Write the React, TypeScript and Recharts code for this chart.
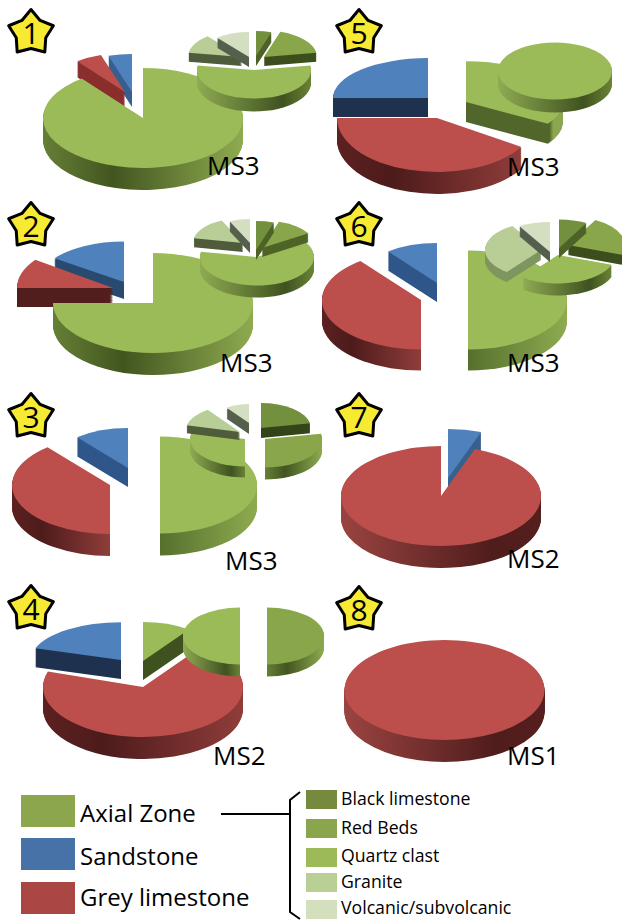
import React from 'react';
import { PieChart, Pie, Cell } from 'recharts';

// Values, each list runs clockwise from 12 o'clock
const MAIN_KEYS = ['Axial Zone', 'Grey limestone', 'Sandstone'];
const SUB_KEYS = ['Black limestone', 'Red Beds', 'Quartz clast', 'Granite', 'Volcanic/subvolcanic'];
const P1_MAIN = [89.5, 5.5, 5];
const P1_SUB = [5, 17.5, 55, 11.5, 11];
const P2_MAIN = [75, 10, 15];
const P2_SUB = [5, 11, 62, 15, 7];
const P3_MAIN = [50, 39, 11];
const P3_SUB = [22, 28, 29, 11, 10];
const P4_MAIN = [10, 70, 20];
const P4_SUB = [0, 50, 50, 0, 0];
const P5_MAIN = [34, 41, 25];
const P5_SUB = [0, 0, 100, 0, 0];
const P6_MAIN = [50, 39.5, 10.5];
const P6_SUB = [8, 22.5, 30, 31, 8.5];
const P7_KEYS = ['Sandstone', 'Grey limestone'];
const P7_MAIN = [5.5, 94.5];
const P8_KEYS = ['Grey limestone'];
const P8_MAIN = [100];

const TOP: Record<string, string> = {
  'Axial Zone': '#9bbb59',
  'Grey limestone': '#bc4f4c',
  Sandstone: '#4f81bd',
  'Black limestone': '#73903f',
  'Red Beds': '#89a64b',
  'Quartz clast': '#9bbb59',
  Granite: '#b9cd96',
  'Volcanic/subvolcanic': '#d3dfc0'
};

const MAIN_LEGEND = [
  { name: 'Axial Zone', color: '#8ca64e', y: 795, base: 822 },
  { name: 'Sandstone', color: '#4672a8', y: 838, base: 865 },
  { name: 'Grey limestone', color: '#aa4644', y: 882, base: 906 }
];
const SUB_LEGEND = [
  { name: 'Black limestone', color: '#75893f', y: 790, base: 805 },
  { name: 'Red Beds', color: '#8aa54b', y: 819, base: 834 },
  { name: 'Quartz clast', color: '#9cbb58', y: 848, base: 862 },
  { name: 'Granite', color: '#b9cf93', y: 873, base: 888 },
  { name: 'Volcanic/subvolcanic', color: '#d4dfbe', y: 900, base: 914 }
];

const SQUASH = 0.5;
const STEP = 0.75;

// one entry per wedge, drawn back to front: [keys, list, index, cx, cy, r, depth, side, squash]
type Place = [string[], number[], number, number, number, number, number, string, number?];

const M = MAIN_KEYS;
const S = SUB_KEYS;

const PLACES: Place[] = [
  // panel 1
  [M, P1_MAIN, 2, 132, 92, 76, 15, '#38618f'],
  [M, P1_MAIN, 1, 125, 92, 78, 16, '#8a2f2d'],
  [M, P1_MAIN, 0, 143, 118, 100, 22, 'url(#axial)'],
  [S, P1_SUB, 2, 254, 70, 57, 13, 'url(#quartz)'],
  [S, P1_SUB, 3, 242, 57, 54, 9, '#4f5d3c'],
  [S, P1_SUB, 4, 249, 57, 50, 10, '#56604e'],
  [S, P1_SUB, 1, 264, 57, 53, 9, '#3d4f1d'],
  [S, P1_SUB, 0, 256, 56, 50, 10, '#4f6428'],
  // panel 2
  [M, P2_MAIN, 2, 124, 282, 86, 17, '#2a4b70', 0.47],
  [M, P2_MAIN, 1, 113, 288, 96, 19, '#521f1e'],
  [M, P2_MAIN, 0, 153, 303, 100, 22, 'url(#axial)'],
  [S, P2_SUB, 2, 257, 257, 57, 12, 'url(#quartz)'],
  [S, P2_SUB, 3, 243, 243, 50, 9, '#4f5d3c'],
  [S, P2_SUB, 4, 250, 243, 48, 10, '#56604e'],
  [S, P2_SUB, 1, 262, 248, 55, 9, '#4f6428'],
  [S, P2_SUB, 0, 256, 250, 58, 10, '#4f6428'],
  // panel 3
  [M, P3_MAIN, 2, 128, 468, 80, 19, '#30568a'],
  [M, P3_MAIN, 1, 110, 485, 98, 22, 'url(#red)'],
  [M, P3_MAIN, 0, 160, 485, 97, 22, 'url(#axialSoft)'],
  [S, P3_SUB, 2, 245, 439, 55, 11, 'url(#quartz)'],
  [S, P3_SUB, 3, 240, 432, 55, 8, '#4f5d3c'],
  [S, P3_SUB, 4, 249, 423, 38, 11, '#56604e'],
  [S, P3_SUB, 1, 265, 439, 57, 12, 'url(#axial)'],
  [S, P3_SUB, 0, 261, 428, 50, 10, '#34451a'],
  // panel 4
  [M, P4_MAIN, 0, 143, 661, 78, 19, '#3f5220'],
  [M, P4_MAIN, 2, 121, 660, 90, 19, '#1f3350', 0.42],
  [M, P4_MAIN, 1, 143, 687, 100, 22, 'url(#red)'],
  [S, P4_SUB, 2, 240, 636, 57, 12, 'url(#quartz)'],
  [S, P4_SUB, 1, 267, 636, 57, 12, 'url(#axial)'],
  // panel 5
  [M, P5_MAIN, 2, 428, 98, 95, 19, '#1f3350', 0.42],
  [M, P5_MAIN, 1, 437, 118, 100, 22, 'url(#red)', 0.54],
  [M, P5_MAIN, 0, 466, 102, 97, 20, 'url(#axialTip)', 0.42],
  [S, P5_SUB, 2, 555, 71, 57, 13, 'url(#quartz)'],
  // panel 6
  [M, P6_MAIN, 2, 437, 283, 80, 19, '#30568a'],
  [M, P6_MAIN, 1, 421, 300, 99, 21, 'url(#red)'],
  [M, P6_MAIN, 0, 468, 300, 99, 21, 'url(#axialSoft)'],
  [S, P6_SUB, 2, 558, 255, 57, 12, 'url(#quartz)'],
  [S, P6_SUB, 3, 541, 250, 56, 10, '#7f9660'],
  [S, P6_SUB, 4, 550, 252, 60, 10, '#56604e'],
  [S, P6_SUB, 1, 568, 245, 57, 10, '#3d4f1d'],
  [S, P6_SUB, 0, 559, 248, 57, 10, '#4f6428'],
  // panel 7
  [P7_KEYS, P7_MAIN, 0, 448, 478, 98, 19, '#38618f'],
  [P7_KEYS, P7_MAIN, 1, 441, 496, 100, 22, 'url(#redBack)'],
  // panel 8
  [P8_KEYS, P8_MAIN, 0, 444.5, 690, 100, 22, 'url(#redBack)']
];

const LABELS = [
  { text: 'MS3', x: 207, y: 175 },
  { text: 'MS3', x: 220, y: 372 },
  { text: 'MS3', x: 225, y: 570 },
  { text: 'MS2', x: 213, y: 765 },
  { text: 'MS3', x: 507, y: 176 },
  { text: 'MS3', x: 507, y: 372 },
  { text: 'MS2', x: 507, y: 568 },
  { text: 'MS1', x: 507, y: 765 }
];

const STARS = [
  { n: '1', x: 31, y: 33 },
  { n: '2', x: 31, y: 226 },
  { n: '3', x: 31, y: 417 },
  { n: '4', x: 31, y: 609 },
  { n: '5', x: 359, y: 33 },
  { n: '6', x: 359, y: 226 },
  { n: '7', x: 359, y: 417 },
  { n: '8', x: 359, y: 610 }
];

const FONT = '"Open Sans", sans-serif';

const starPoints = (x: number, y: number) => {
  const pts: string[] = [];
  for (let i = 0; i < 10; i++) {
    const r = i % 2 === 0 ? 23.5 : 15.5;
    const a = (i * Math.PI) / 5;
    pts.push(`${x + r * Math.sin(a)},${y - r * Math.cos(a)}`);
  }
  return pts.join(' ');
};

// a stack of pies in its own flattened chart, only one wedge of each is painted
const Wedge = ({ place }: { place: Place }) => {
  const [names, list, index, cx, cy, r, depth, side, squash = SQUASH] = place;
  const rows = list.map((value, i) => ({ name: names[i], value }));
  const layers: React.ReactNode[] = [];
  for (let d = depth; d >= 0; d -= STEP) {
    const isTop = d < STEP;
    layers.push(
      <Pie
        key={d}
        data={rows}
        dataKey="value"
        nameKey="name"
        cx={cx}
        cy={(cy + (isTop ? 0 : d)) / squash}
        outerRadius={r}
        startAngle={90}
        endAngle={-270}
        stroke="none"
        label={false}
        labelLine={false}
        isAnimationActive={false}
      >
        {rows.map((row, i) => (
          <Cell key={row.name} fill={i === index ? (isTop ? TOP[names[index]] : side) : 'none'} />
        ))}
      </Pie>
    );
  }
  return (
    <div style={{ position: 'absolute', left: 0, top: 0, transform: `scaleY(${squash})`, transformOrigin: '0 0' }}>
      <PieChart width={622} height={920 / squash} margin={{ top: 0, right: 0, bottom: 0, left: 0 }}>
        {layers}
      </PieChart>
    </div>
  );
};

const Gradients = () => (
  <svg width={0} height={0} style={{ position: 'absolute' }}>
    <defs>
      <linearGradient id="axial" x1="0" y1="0" x2="1" y2="0">
        <stop offset="0" stopColor="#667f36" />
        <stop offset="0.35" stopColor="#42551f" />
        <stop offset="1" stopColor="#8eab50" />
      </linearGradient>
      <linearGradient id="axialSoft" x1="0" y1="0" x2="1" y2="0">
        <stop offset="0" stopColor="#56702d" />
        <stop offset="1" stopColor="#8eab50" />
      </linearGradient>
      <linearGradient id="axialTip" x1="0" y1="0" x2="1" y2="0">
        <stop offset="0" stopColor="#50662b" />
        <stop offset="0.86" stopColor="#50662b" />
        <stop offset="0.9" stopColor="#8aa64e" />
        <stop offset="1" stopColor="#8aa64e" />
      </linearGradient>
      <linearGradient id="quartz" x1="0" y1="0" x2="1" y2="0">
        <stop offset="0" stopColor="#8fab52" />
        <stop offset="0.75" stopColor="#3f5220" />
        <stop offset="1" stopColor="#6b8335" />
      </linearGradient>
      <linearGradient id="red" x1="0" y1="0" x2="1" y2="0">
        <stop offset="0" stopColor="#5c2120" />
        <stop offset="0.3" stopColor="#4d1b1b" />
        <stop offset="1" stopColor="#8f3d3a" />
      </linearGradient>
      <linearGradient id="redBack" x1="0" y1="0" x2="1" y2="0">
        <stop offset="0" stopColor="#9a4441" />
        <stop offset="0.75" stopColor="#4f1d1c" />
        <stop offset="1" stopColor="#551f1e" />
      </linearGradient>
    </defs>
  </svg>
);

export default function App() {
  return (
    <div style={{ position: 'absolute', left: 0, top: 0, width: 622, height: 920, overflow: 'hidden', background: '#fff' }}>
      <Gradients />
      {PLACES.map((place, i) => (
        <Wedge key={i} place={place} />
      ))}
      <svg width={622} height={920} style={{ position: 'absolute', left: 0, top: 0 }} fontFamily={FONT}>
        {LABELS.map((l, i) => (
          <text key={i} x={l.x} y={l.y} fontSize={26} fill="#000">
            {l.text}
          </text>
        ))}
        {STARS.map((s) => (
          <g key={s.n}>
            <polygon points={starPoints(s.x, s.y)} fill="#f6ea33" stroke="#000" strokeWidth={3} strokeLinejoin="round" />
            <text x={s.x} y={s.y + 11} fontSize={30} textAnchor="middle" fill="#000">
              {s.n}
            </text>
          </g>
        ))}
        {MAIN_LEGEND.map((m) => (
          <g key={m.name}>
            <rect x={21} y={m.y} width={54} height={32} fill={m.color} />
            <text x={80} y={m.base} fontSize={24} fill="#000">
              {m.name}
            </text>
          </g>
        ))}
        {SUB_LEGEND.map((m) => (
          <g key={m.name}>
            <rect x={306} y={m.y} width={31} height={19} fill={m.color} />
            <text x={341} y={m.base} fontSize={17.7} fill="#000">
              {m.name}
            </text>
          </g>
        ))}
        <path d="M221 814 H290 M300 792 L290 800 V912 L300 919" fill="none" stroke="#000" strokeWidth={2} />
      </svg>
    </div>
  );
}
